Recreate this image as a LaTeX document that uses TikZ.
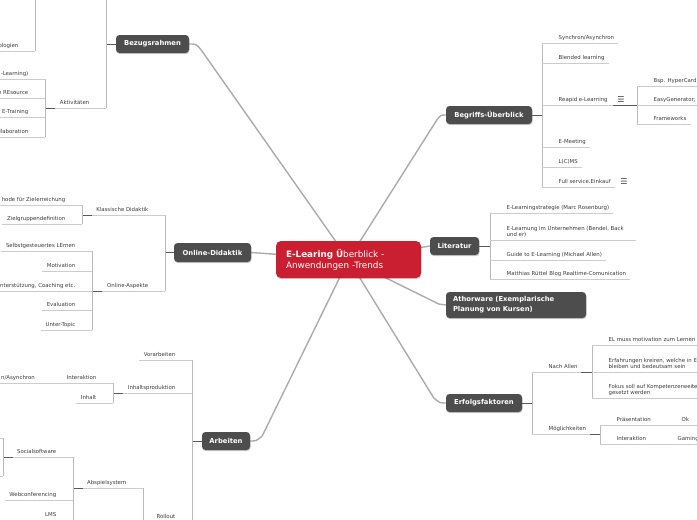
\documentclass[tikz,border=0pt]{standalone}
\usepackage{fontspec}
\setmainfont{DejaVu Sans}
\usetikzlibrary{calc,backgrounds,shadows}
\definecolor{redn}{HTML}{C91F30}
\definecolor{darkn}{HTML}{4D4D4D}
\definecolor{chtxt}{HTML}{3C3C3C}
\tikzset{
 mainnode/.style={fill=darkn, text=white, rounded corners=3.5pt, font=\fontsize{6.8}{8}\selectfont\bfseries, inner sep=0pt, minimum height=18pt,
   drop shadow={shadow xshift=0.5pt, shadow yshift=-1.2pt, opacity=0.2, fill=black}},
 ct/.style={text=chtxt, font=\fontsize{5.4}{6}\selectfont, inner sep=0pt},
 icon/.style={text=black!75, font=\fontsize{8}{8}\selectfont, inner sep=0pt},
 ul/.style={draw=black!20, line width=0.9pt},
 vl/.style={draw=black!27, line width=0.9pt},
 dk/.style={draw=black!65, line width=1pt},
 trunk/.style={draw=black!33, line width=1.4pt},
}
\newcommand\mmR[4]{%
 \node[ct, anchor=base west] (#1) at ({#2+16.5},{#3-3.8}) {#4};
 \draw[ul] (#2,#3) -- ($(#1.base east)+(4,3.8)$);}
\newcommand\mmL[4]{%
 \node[ct, anchor=base east] (#1) at ({#2-16.5},{#3-3.8}) {#4};
 \draw[ul] (#2,#3) -- ($(#1.base west)+(-4.5,3.8)$);}
\begin{document}
\begin{tikzpicture}[x=1pt,y=-1pt]
\path[use as bounding box] (0,0) rectangle (697,520);
\begin{scope}[on background layer]
\fill[white] (0,0) rectangle (697,520);
\end{scope}
\clip (0,0) rectangle (697,520);

% ---------- main nodes ----------
\node[mainnode, fill=redn, minimum width=145pt, minimum height=37pt, rounded corners=5pt, text width=125pt, align=left, font=\fontsize{8.8}{11}\selectfont] (c) at (348.5,259.5) {\textbf{E-Learing Ü}berblick -\\Anwendungen -Trends};
\node[mainnode, minimum width=73pt] (bez) at (152.5,44) {Bezugsrahmen};
\node[mainnode, minimum width=86pt] (beg) at (489,115) {Begriffs-Überblick};
\node[mainnode, minimum width=77pt, minimum height=19pt] (odi) at (212.5,252.5) {Online-Didaktik};
\node[mainnode, minimum width=49pt] (lit) at (454.5,246) {Literatur};
\node[mainnode, minimum width=140pt, minimum height=26pt, text width=126pt, align=left, font=\fontsize{6.8}{10}\selectfont\bfseries] (ath) at (516,305) {Athorware (Exemplarische\\Planung von Kursen)};
\node[mainnode, minimum width=76pt] (erf) at (484,403) {Erfolgsfaktoren};
\node[mainnode, minimum width=48pt] (arb) at (226,441) {Arbeiten};

% ---------- trunks ----------
\begin{scope}[on background layer]
\draw[trunk] (c.center) -- ($(bez.east)+(12,6)$) .. controls ($(bez.east)+(7,0)$) .. (bez.east);
\draw[trunk] (c.center) -- ($(beg.west)+(-9,5)$) .. controls ($(beg.west)+(-5,0)$) .. (beg.west);
\draw[trunk] (c.center) -- (odi.east);
\draw[trunk] (c.center) -- (lit.west);
\draw[trunk] (c.center) -- ($(ath.west)+(-7,-1)$) -- (ath.west);
\draw[trunk] (c.center) -- ($(erf.west)+(-12,-5)$) .. controls ($(erf.west)+(-6,0)$) .. (erf.west);
\draw[trunk] (c.center) -- ($(arb.east)+(12,-5)$) .. controls ($(arb.east)+(6,0)$) .. (arb.east);
\end{scope}

% ---------- Begriffs-Ueberblick ----------
\draw[dk] (beg.east) -- (542,115);
\draw[vl] (542,43) -- (542,187);
\mmR{syn}{542}{43}{Synchron/Asynchron}
\mmR{ble}{542}{63}{Blended learning}
\node[ct, anchor=base west] (rea) at (558.5,101.2) {Reapid e-Learning};
\draw[ul] (542,105) -- (613,105);
\draw[dk] (613,105) -- (637,105);
\node[icon] (rei) at (621,99.5) {☰};
\mmR{eme}{542}{147}{E-Meeting}
\mmR{lcm}{542}{167}{L(C)MS}
\mmR{ful}{542}{187}{Full service.Einkauf}
\node[icon] (fui) at (624,181.5) {☰};
\draw[vl] (637,86) -- (637,124);
\mmR{bsp}{637}{86}{Bsp. HyperCard}
\mmR{eas}{637}{105}{EasyGenerator;}
\mmR{fra}{637}{124}{Frameworks}

% ---------- Literatur ----------
\draw[dk] (lit.east) -- (490,246);
\draw[vl] (490,213) -- (490,279);
\mmR{la}{490}{213}{E-Learningstrategie (Marc Rosenburg)}
\node[ct, anchor=base west] (lba) at (506.5,230) {E-Learnung im Unternehmen (Bendel, Back};
\node[ct, anchor=base west] (lbb) at (506.5,236.2) {und er)};
\draw[ul] (490,240) -- (636,240);
\mmR{lc}{490}{260}{Guide to E-Learning (Michael Allen)}
\mmR{ld}{490}{279}{Matthias Rüttel Blog Realtime-Comunication}

% ---------- Erfolgsfaktoren ----------
\draw[dk] (erf.east) -- (532,403);
\draw[vl] (532,372) -- (532,434);
\node[ct, anchor=base west] (nac) at (548.5,368.2) {Nach Allen};
\draw[ul] (532,372) -- (581,372);
\draw[dk] (581,372) -- (592,372);
\draw[vl] (592,345) -- (592,398);
\node[ct, anchor=base west] (ea) at (608.5,341.2) {EL muss motivation zum Lernen};
\draw[ul] (592,345) -- (700,345);
\node[ct, anchor=base west] (eba) at (608.5,362.2) {Erfahrungen kreiren, welche in E};
\node[ct, anchor=base west] (ebb) at (608.5,368.2) {bleiben und bedeutsam sein};
\draw[ul] (592,372) -- (700,372);
\node[ct, anchor=base west] (eca) at (608.5,388.2) {Fokus soll auf Kompetenzerweite};
\node[ct, anchor=base west] (ecb) at (608.5,394.2) {gesetzt werden};
\draw[ul] (592,398) -- (700,398);
\node[ct, anchor=base west] (moe) at (548.5,430.2) {Möglichkeiten};
\draw[ul] (532,434) -- (590,434);
\draw[dk] (590,434) -- (600,434);
\draw[vl] (600,425) -- (600,444);
\node[ct, anchor=base west] (pra) at (616.5,421.2) {Präsentation};
\node[ct, anchor=base west] (ok) at (681.5,421.2) {Ok};
\draw[ul] (600,425) -- (700,425);
\node[ct, anchor=base west] (mia) at (616.5,440.2) {Interaktion};
\node[ct, anchor=base west] (gam) at (677.5,440.2) {Gaming};
\draw[ul] (600,444) -- (700,444);

% ---------- Online-Didaktik ----------
\draw[dk] (odi.west) -- (165,252.5);
\draw[vl] (165,215) -- (165,291);
\node[ct, anchor=base east] (kla) at (148.5,211.2) {Klassische Didaktik};
\draw[ul] (92,215) -- (165,215);
\draw[dk] (82,215) -- (92,215);
\draw[vl] (82,205) -- (82,224);
\mmL{me}{82}{205}{hode für Zielerreichung}
\mmL{zi}{82}{224}{Zielgruppendefinition}
\node[ct, anchor=base east] (ona) at (148.5,287.2) {Online-Aspekte};
\draw[ul] (102,291) -- (165,291);
\draw[dk] (92,291) -- (102,291);
\draw[vl] (92,251) -- (92,330);
\mmL{oa}{92}{251}{Selbstgesteuertes LErnen}
\mmL{ob}{92}{271}{Motivation}
\mmL{oc}{92}{291}{nterstützung, Coaching etc.}
\mmL{od}{92}{310}{Evaluation}
\mmL{oe}{92}{330}{Unter-Topic}

% ---------- Bezugsrahmen ----------
\draw[dk] (bez.west) -- (106,44);
\draw[vl] (106,-30) -- (106,108);
\draw[vl] (35,-40) -- (35,51);
\mmL{tec}{35}{51}{ologien}
\node[ct, anchor=base east] (akt) at (89.5,104.2) {Aktivitäten};
\draw[ul] (55,108) -- (106,108);
\draw[dk] (45,108) -- (55,108);
\draw[vl] (45,79) -- (45,137);
\mmL{ba}{45}{79}{-Learning)}
\mmL{bb}{45}{98}{n REsource}
\mmL{bc}{45}{117}{E-Training}
\mmL{bd}{45}{137}{llaboration}

% ---------- Arbeiten ----------
\draw[dk] (arb.west) -- (192,441);
\draw[vl] (192,360) -- (192,540);
\mmL{vor}{192}{360}{Vorarbeiten}
\node[ct, anchor=base east] (inh) at (175.5,389.2) {Inhaltsproduktion};
\draw[ul] (123,393) -- (192,393);
\draw[dk] (113,393) -- (123,393);
\draw[vl] (113,383) -- (113,403);
\node[ct, anchor=base east] (iak) at (96.5,379.2) {Interaktion};
\draw[ul] (-5,383) -- (113,383);
\node[ct, anchor=base east] (sya) at (35,379.2) {n/Asynchron};
\mmL{ihl}{113}{403}{Inhalt}
\node[ct, anchor=base east] (rol) at (175.5,518.2) {Rollout};
\draw[ul] (153,522) -- (192,522);
\draw[dk] (143,522) -- (153,522);
\draw[vl] (143,488) -- (143,560);
\node[ct, anchor=base east] (abs) at (126.5,484.2) {Abspielsystem};
\draw[ul] (83,488) -- (143,488);
\draw[dk] (73,488) -- (83,488);
\draw[vl] (73,457) -- (73,540);
\node[ct, anchor=base east] (soc) at (56.5,453.2) {Socialsoftware};
\draw[ul] (13,457) -- (73,457);
\draw[dk] (3,457) -- (13,457);
\draw[vl] (3,438) -- (3,476);
\draw[ul] (-5,438) -- (3,438);
\draw[ul] (-5,476) -- (3,476);
\mmL{web}{73}{500}{Webconferencing}
\mmL{lms}{73}{520}{LMS}
\end{tikzpicture}
\end{document}
